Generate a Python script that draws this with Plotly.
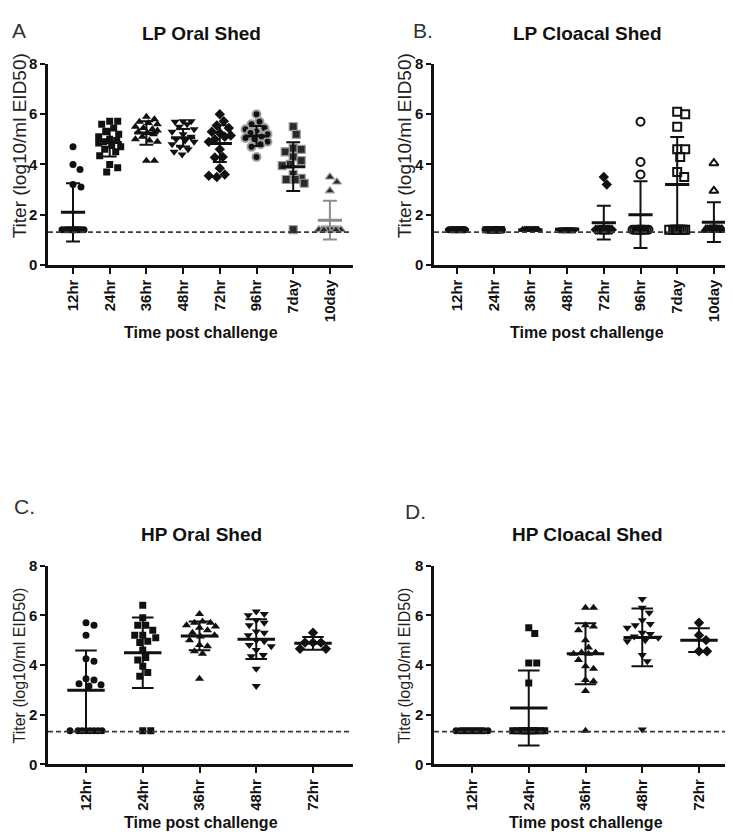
import plotly.graph_objects as go

W, H = 733, 832

# ---- data (log10 EID50/ml titers) ----
lp_labels = ['12hr', '24hr', '36hr', '48hr', '72hr', '96hr', '7day', '10day']
hp_labels = ['12hr', '24hr', '36hr', '48hr', '72hr']

lp_oral = [
    [4.70, 4.00, 3.80, 3.20, 3.10, 1.40, 1.40, 1.40, 1.40, 1.40, 1.40, 1.40, 1.40, 1.40, 1.40, 1.40, 1.40],
    [5.72, 5.72, 5.60, 5.45, 5.30, 5.20, 5.10, 5.00, 4.95, 4.90, 4.85, 4.75, 4.70, 4.60, 4.50, 4.35, 4.00, 3.87, 3.70],
    [5.90, 5.80, 5.70, 5.65, 5.60, 5.50, 5.45, 5.40, 5.35, 5.30, 5.25, 5.20, 5.10, 5.00, 4.95, 4.90, 4.15, 4.15],
    [5.72, 5.72, 5.70, 5.60, 5.50, 5.40, 5.30, 5.20, 5.10, 5.00, 4.95, 4.90, 4.80, 4.70, 4.60, 4.50, 4.40],
    [6.00, 5.72, 5.55, 5.45, 5.30, 5.25, 5.15, 5.10, 5.00, 4.90, 4.60, 4.30, 4.28, 3.85, 3.60, 3.50, 3.55],
    [6.00, 5.70, 5.60, 5.45, 5.40, 5.30, 5.25, 5.20, 5.10, 5.05, 5.00, 4.90, 4.80, 4.70, 4.30],
    [5.50, 5.20, 4.65, 4.60, 4.50, 4.30, 4.15, 4.00, 3.95, 3.60, 3.45, 3.40, 3.40, 3.25, 1.40],
    [3.50, 3.30, 2.95, 1.40, 1.40, 1.40, 1.40, 1.40, 1.40, 1.40, 1.40, 1.40, 1.40, 1.40],
]
lp_oral_mean = [2.09, 4.87, 5.25, 5.06, 4.83, 5.13, 3.91, 1.78]
lp_oral_sd = [1.16, 0.55, 0.47, 0.35, 0.73, 0.40, 0.97, 0.77]

lp_cloacal = [
    [1.40, 1.40, 1.40, 1.40, 1.40, 1.40, 1.40, 1.40, 1.40, 1.40, 1.40, 1.40, 1.40, 1.40, 1.40, 1.40],
    [1.40, 1.40, 1.40, 1.40, 1.40, 1.40, 1.40, 1.40, 1.40, 1.40, 1.40, 1.40, 1.40, 1.40, 1.40, 1.40],
    [1.40, 1.40, 1.40, 1.40, 1.40, 1.40, 1.40, 1.40, 1.40, 1.40, 1.40, 1.40, 1.40, 1.40, 1.40, 1.40],
    [1.40, 1.40, 1.40, 1.40, 1.40, 1.40, 1.40, 1.40, 1.40, 1.40, 1.40, 1.40, 1.40, 1.40, 1.40, 1.40],
    [3.50, 3.20, 1.40, 1.40, 1.40, 1.40, 1.40, 1.40, 1.40, 1.40, 1.40, 1.40, 1.40, 1.40, 1.40, 1.40],
    [5.70, 4.10, 3.60, 1.40, 1.40, 1.40, 1.40, 1.40, 1.40, 1.40, 1.40, 1.40, 1.40, 1.40, 1.40, 1.40],
    [6.10, 6.00, 5.50, 4.60, 4.60, 4.30, 3.70, 3.50, 1.40, 1.40, 1.40, 1.40, 1.40, 1.40, 1.40, 1.40],
    [4.05, 2.95, 1.40, 1.40, 1.40, 1.40, 1.40, 1.40, 1.40, 1.40, 1.40, 1.40, 1.40, 1.40, 1.40],
]
lp_cloacal_mean = [1.40, 1.40, 1.40, 1.40, 1.68, 2.00, 3.20, 1.70]
lp_cloacal_sd = [0.0, 0.0, 0.0, 0.0, 0.67, 1.33, 1.89, 0.79]

hp_oral = [
    [5.70, 5.60, 5.20, 4.25, 4.15, 3.45, 3.40, 3.25, 3.20, 3.15, 1.35, 1.35, 1.35, 1.35, 1.35, 1.35, 1.35, 1.35],
    [6.40, 5.90, 5.60, 5.60, 5.40, 5.20, 5.20, 5.10, 4.95, 4.90, 4.60, 4.30, 4.20, 3.95, 3.70, 3.55, 1.35, 1.35],
    [6.05, 5.75, 5.70, 5.70, 5.60, 5.55, 5.50, 5.40, 5.30, 5.20, 5.15, 5.00, 4.80, 4.75, 4.55, 4.45, 3.45],
    [6.15, 6.05, 6.00, 5.80, 5.70, 5.60, 5.35, 5.30, 5.20, 5.00, 4.95, 4.80, 4.75, 4.60, 4.40, 4.35, 3.85, 3.15],
    [5.30, 4.90, 4.90, 4.90, 4.65, 4.65],
]
hp_oral_mean = [2.98, 4.49, 5.17, 5.04, 4.87]
hp_oral_sd = [1.60, 1.42, 0.58, 0.80, 0.26]

hp_cloacal = [
    [1.35, 1.35, 1.35, 1.35, 1.35, 1.35, 1.35, 1.35, 1.35, 1.35, 1.35, 1.35, 1.35, 1.35, 1.35],
    [5.50, 5.27, 4.08, 4.08, 3.28, 1.35, 1.35, 1.35, 1.35, 1.35, 1.35, 1.35, 1.35, 1.35, 1.35, 1.35, 1.35, 1.35],
    [6.30, 6.30, 5.60, 5.55, 5.40, 5.00, 4.70, 4.50, 4.50, 4.45, 4.45, 4.20, 3.95, 3.85, 3.40, 3.35, 2.95, 1.35],
    [6.65, 6.30, 6.10, 5.80, 5.65, 5.60, 5.50, 5.30, 5.25, 5.15, 5.10, 5.00, 4.95, 4.40, 4.15, 1.40],
    [5.70, 5.20, 5.00, 4.55, 4.55],
]
hp_cloacal_mean = [1.35, 2.27, 4.45, 5.11, 5.00]
hp_cloacal_sd = [0.0, 1.51, 1.23, 1.16, 0.48]

lp_detection_limit = 1.3
hp_detection_limit = 1.32

FONT = 'Arial, Liberation Sans, sans-serif'
BLACK = '#111111'
GREY = '#8c8c8c'

symbols = ['circle', 'square', 'triangle-up', 'triangle-down', 'diamond', 'circle', 'square', 'triangle-up']
sizes = {'circle': 7, 'square': 7, 'triangle-up': 8, 'triangle-down': 8, 'diamond': 8}


def swarm(vals, px_cat, px_val=25.5, diam=8, half=9):
    """spread points sideways so they do not overlap (pixel space)"""
    placed, offs = [], []
    steps = [0]
    for k in range(1, half + 1):
        steps += [k, -k]
    for v in vals:
        yv = v * px_val
        best, best_d = 0, -1
        for c in steps:
            d = min([((c - px) ** 2 + (yv - py) ** 2) ** 0.5 for px, py in placed], default=1e9)
            if d >= diam:
                best = c
                break
            if d > best_d:
                best, best_d = c, d
        placed.append((best, yv))
        offs.append(best / px_cat)
    return offs


# panel geometry in pixels: (x_left, x_right, y_top(=8), y_bottom(=0)), category px positions
panels = [
    dict(data=lp_oral, mean=lp_oral_mean, sd=lp_oral_sd, labels=lp_labels, lod=lp_detection_limit,
         box=(40, 345, 48, 253), c0=65, step=36.7, half=11, style='A'),
    dict(data=lp_cloacal, mean=lp_cloacal_mean, sd=lp_cloacal_sd, labels=lp_labels, lod=lp_detection_limit,
         box=(426, 729, 48, 253), c0=449, step=36.7, half=9, style='B'),
    dict(data=hp_oral, mean=hp_oral_mean, sd=hp_oral_sd, labels=hp_labels, lod=hp_detection_limit,
         box=(40, 345, 560, 763), c0=78, step=56.75, half=16, style='C'),
    dict(data=hp_cloacal, mean=hp_cloacal_mean, sd=hp_cloacal_sd, labels=hp_labels, lod=hp_detection_limit,
         box=(426, 728, 560, 763), c0=464, step=56.75, half=16, style='D'),
]


def marker_style(style, i):
    sym = symbols[i]
    m = dict(symbol=sym, size=sizes[sym], color=BLACK, line=dict(width=0, color=BLACK))
    if style == 'A' and i == 5:
        m.update(size=8, line=dict(width=2, color='#a0a0a0'))
    if style == 'A' and i in (6, 7):
        m.update(size=8, color='#2a2a2a', line=dict(width=1.2, color='#9a9a9a'))
    if style == 'B' and i >= 5:
        m.update(symbol=sym + '-open', size=8, color=BLACK, line=dict(width=2, color=BLACK))
    return m


fig = go.Figure()
layout = {}
for k, p in enumerate(panels):
    xa = 'x' if k == 0 else f'x{k + 1}'
    ya = 'y' if k == 0 else f'y{k + 1}'
    xl, xr, yt, yb = p['box']
    xr0 = (xl - p['c0']) / p['step']
    xr1 = (xr - p['c0']) / p['step']
    px_val = (yb - yt) / 8

    # points
    for i, vals in enumerate(p['data']):
        offs = swarm(vals, p['step'], px_val=px_val, half=p['half'])
        fig.add_trace(go.Scatter(
            x=[i + o for o in offs], y=vals, mode='markers', xaxis=xa, yaxis=ya,
            marker=marker_style(p['style'], i), showlegend=False, hoverinfo='y'))

    # mean and SD
    for i, (m, s) in enumerate(zip(p['mean'], p['sd'])):
        col = GREY if (p['style'] == 'A' and i == 7) else BLACK
        fig.add_trace(go.Scatter(
            x=[i - 0.33, i + 0.33], y=[m, m], mode='lines', xaxis=xa, yaxis=ya,
            line=dict(color=col, width=3), showlegend=False, hoverinfo='skip'))
        if s > 0:
            fig.add_trace(go.Scatter(
                x=[i, i, None, i - 0.19, i + 0.19, None, i - 0.19, i + 0.19],
                y=[m - s, m + s, None, m + s, m + s, None, m - s, m - s],
                mode='lines', xaxis=xa, yaxis=ya,
                line=dict(color=col, width=2), showlegend=False, hoverinfo='skip'))

    # detection limit
    fig.add_trace(go.Scatter(
        x=[xr0, xr1 - 0.05], y=[p['lod'], p['lod']], mode='lines', xaxis=xa, yaxis=ya,
        line=dict(color='#3a3a3a', width=1.8, dash='5px,3px'), showlegend=False, hoverinfo='skip'))

    layout['xaxis' if k == 0 else f'xaxis{k + 1}'] = dict(
        domain=[xl / W, xr / W], anchor=ya, range=[xr0, xr1],
        tickvals=list(range(len(p['labels']))), ticktext=p['labels'], tickangle=-90,
        ticks='outside', ticklen=6, tickwidth=2, tickcolor=BLACK,
        showline=True, linewidth=2.5, linecolor=BLACK, showgrid=False, zeroline=False,
        tickfont=dict(family=FONT, size=15, color=BLACK, weight='bold'))
    layout['yaxis' if k == 0 else f'yaxis{k + 1}'] = dict(
        domain=[1 - yb / H, 1 - yt / H], anchor=xa, range=[0, 8],
        tickvals=[0, 2, 4, 6, 8], ticks='outside', ticklen=5, tickwidth=2, tickcolor=BLACK,
        showline=True, linewidth=2.5, linecolor=BLACK, showgrid=False, zeroline=False,
        tickfont=dict(family=FONT, size=15, color=BLACK, weight='bold'))


def note(text, x, y, size, bold=False, angle=0, anchor='center', color=BLACK):
    return dict(text=text, x=x / W, y=1 - y / H, xref='paper', yref='paper', showarrow=False,
                xanchor=anchor, yanchor='middle', textangle=angle,
                font=dict(family=FONT, size=size, color=color, weight='bold' if bold else 'normal'))


annotations = [
    note('LP Oral Shed', 193, 17, 19, bold=True),
    note('LP Cloacal Shed', 579, 17, 19, bold=True),
    note('HP Oral Shed', 193, 528, 19, bold=True),
    note('HP Cloacal Shed', 579, 528, 19, bold=True),
    note('Time post challenge', 193, 322, 16, bold=True),
    note('Time post challenge', 579, 322, 16, bold=True),
    note('Time post challenge', 193, 822, 16, bold=True),
    note('Time post challenge', 578, 822, 16, bold=True),
    note('Titer (log10/ml EID50)', 11, 132, 19, angle=-90, color='#222222'),
    note('Titer (log10/ml EID50)', 396, 132, 19, angle=-90, color='#222222'),
    note('Titer (log10/ml EID50)', 11, 662, 16, angle=-90, color='#222222'),
    note('Titer (log10/ml EID50)', 396, 662, 16, angle=-90, color='#222222'),
    note('A', 2, 14, 21, anchor='left', color='#333333'),
    note('B.', 403, 14, 21, anchor='left', color='#333333'),
    note('C.', 4, 500, 21, anchor='left', color='#333333'),
    note('D.', 395, 505, 21, anchor='left', color='#333333'),
]

fig.update_layout(
    width=W, height=H, margin=dict(l=0, r=0, t=0, b=0),
    paper_bgcolor='white', plot_bgcolor='white',
    font=dict(family=FONT, color=BLACK),
    annotations=annotations, **layout)

fig.write_html("out.html")
